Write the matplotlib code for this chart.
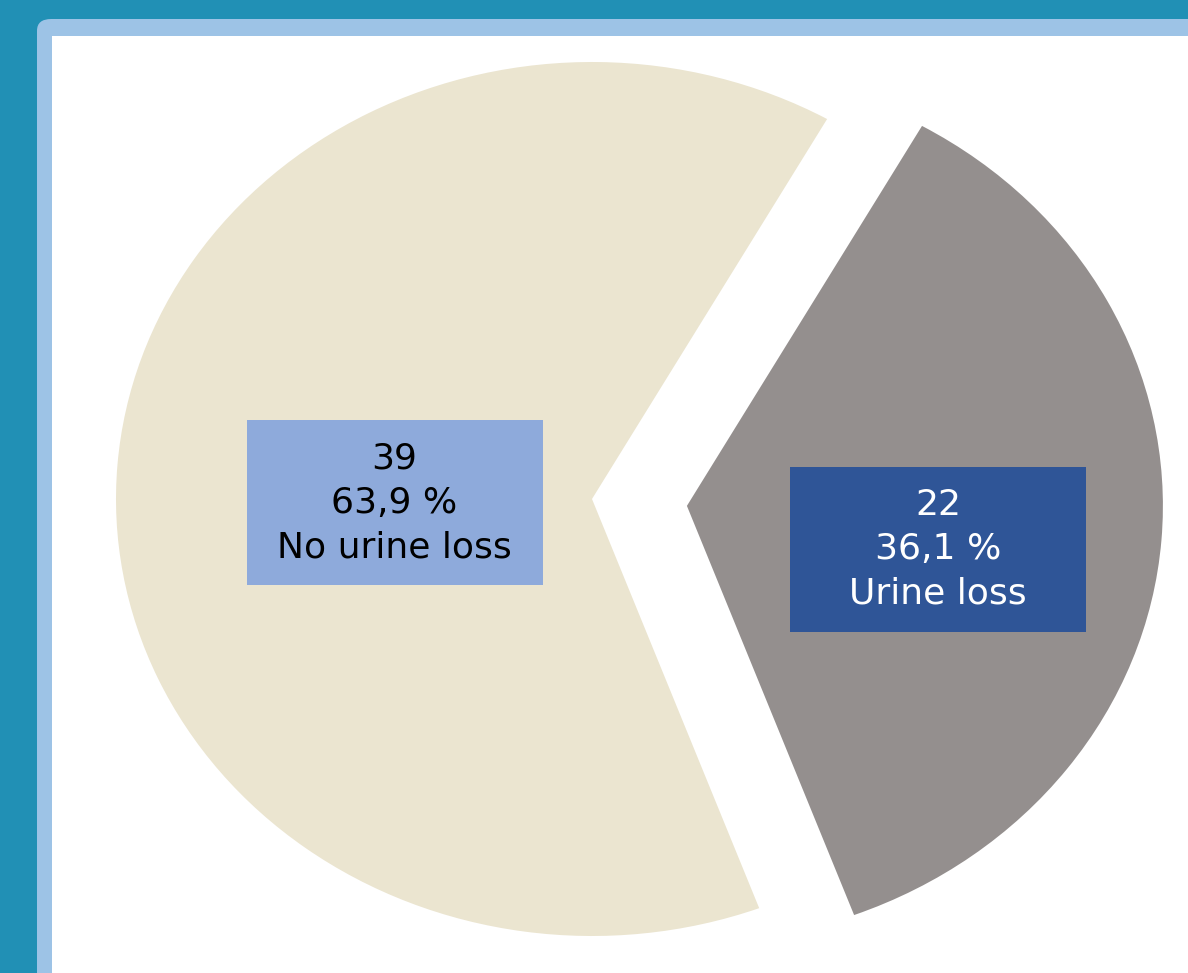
import numpy as np
import matplotlib.pyplot as plt
from matplotlib.patches import FancyBboxPatch, Rectangle

plt.rcParams['font.family'] = ['DejaVu Sans']

labels = ["No urine loss", "Urine loss"]
counts = [39, 22]
percents = ["63,9 %", "36,1 %"]
explode = [0.0, 0.2]

colors = ["#ebe5d0", "#948f8e"]
box_colors = ["#8eaadb", "#2f5597"]
text_colors = ["black", "white"]
label_dist = [0.415, 0.537]
label_turn = [5.7, -6.1]   # degrees, nudges label boxes off the wedge bisector

W, H = 1188, 973
fig = plt.figure(figsize=(W / 100, H / 100), dpi=100)
fig.patch.set_facecolor("#2190b5")

# light blue frame + white panel
fig.patches.append(FancyBboxPatch((37 / W, -0.1), 1.2, (H - 19) / H + 0.1,
                                  boxstyle="round,pad=0,rounding_size=0.012",
                                  transform=fig.transFigure, facecolor="#9dc3e6",
                                  edgecolor="none", zorder=-2))
fig.patches.append(Rectangle((52 / W, 0), 1.0, (H - 36) / H,
                             transform=fig.transFigure, facecolor="white",
                             edgecolor="none", zorder=-1))

ax = fig.add_axes([52 / W, 0, (W - 52) / W, (H - 36) / H])
ax.set_facecolor("none")

wedges, _ = ax.pie(counts, colors=colors, explode=explode, startangle=60.4,
                   wedgeprops=dict(linewidth=0))
ax.set_aspect("auto")
# ellipse: radius in pixels along x and y, centre in pixels
rx, ry = 476, 437
cx, cy = 592, 499
ax.set_xlim((52 - cx) / rx, (W - cx) / rx)
ax.set_ylim((cy - H) / ry, (cy - 36) / ry)
ax.axis("off")

bw, bh = 296 / rx, 165 / ry
for i, w in enumerate(wedges):
    mid = np.deg2rad((w.theta1 + w.theta2) / 2 + label_turn[i])
    x = w.center[0] + label_dist[i] * np.cos(mid)
    y = w.center[1] + label_dist[i] * np.sin(mid)
    ax.add_patch(Rectangle((x - bw / 2, y - bh / 2), bw, bh,
                           facecolor=box_colors[i], edgecolor="none", zorder=3))
    ax.text(x, y, f"{counts[i]}\n{percents[i]}\n{labels[i]}", ha="center",
            va="center", fontsize=26, color=text_colors[i], linespacing=1.38,
            zorder=4)

fig.savefig("out.png", dpi=100, facecolor=fig.get_facecolor())
